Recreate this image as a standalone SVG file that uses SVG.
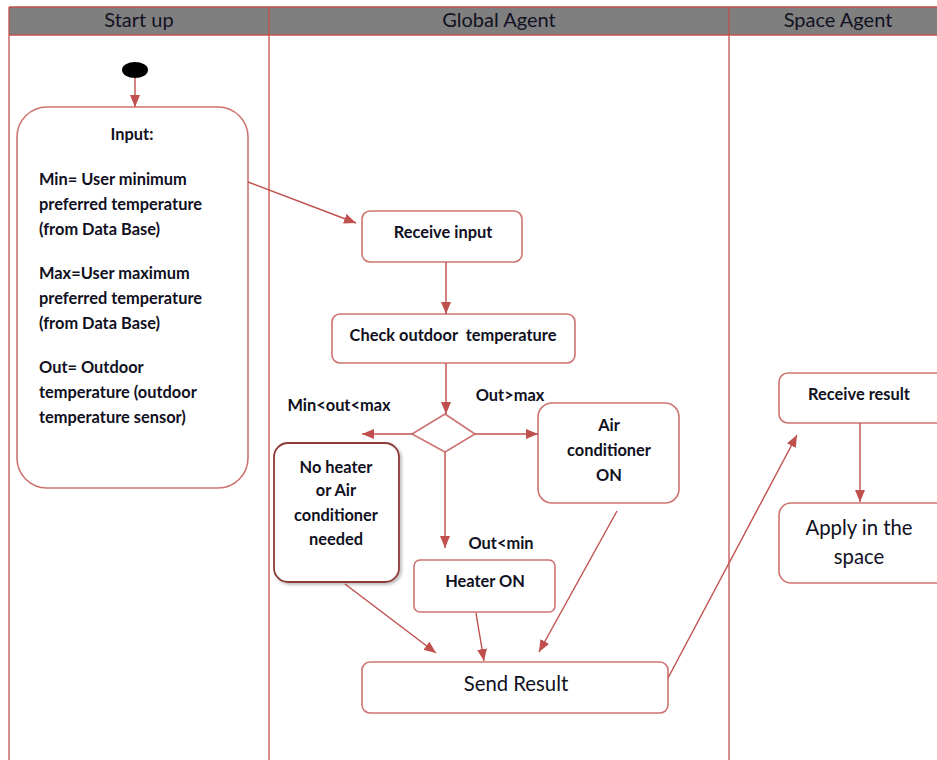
<svg xmlns="http://www.w3.org/2000/svg" width="937" height="760" viewBox="0 0 937 760">
  <defs>
    <marker id="arrow" markerWidth="12" markerHeight="10" refX="12" refY="5" orient="auto" markerUnits="userSpaceOnUse">
      <path d="M0,0 L12,5 L0,10 Z" fill="#C0504D"/>
    </marker>
    <filter id="shadow" x="-10%" y="-10%" width="130%" height="130%">
      <feDropShadow dx="2" dy="2" stdDeviation="1.5" flood-color="#000" flood-opacity="0.25"/>
    </filter>
  </defs>
  <style>
    .lane { stroke: #C0504D; stroke-width: 1.3; fill: none; }
    .hdr { fill: #7F7F7F; }
    .htxt { font-family: Lato, "Open Sans", sans-serif; font-size: 20px; fill: #111122; text-anchor: middle; }
    .box { fill: #FFFFFF; stroke: #C0504D; stroke-width: 1.6; stroke-opacity: 0.8; }
    .dark { fill: #FFFFFF; stroke: #8E3A38; stroke-width: 1.8; }
    .t { font-family: Lato, "Open Sans", sans-serif; font-size: 16.4px; font-weight: bold; fill: #10101E; }
    .c { text-anchor: middle; }
    .pre { white-space: pre; }
    .big { font-family: Lato, "Open Sans", sans-serif; font-size: 20.3px; fill: #10101E; text-anchor: middle; }
    .edge { stroke: #C0504D; stroke-width: 1.4; fill: none; marker-end: url(#arrow); }
  </style>

  <!-- swimlane frame -->
  <g id="lanes">
    <rect class="hdr" x="9" y="7" width="928" height="28"/>
    <line class="lane" x1="9" y1="7" x2="937" y2="7"/>
    <line class="lane" x1="9" y1="35" x2="937" y2="35"/>
    <line class="lane" x1="9" y1="7" x2="9" y2="760"/>
    <line class="lane" x1="269" y1="7" x2="269" y2="760"/>
    <line class="lane" x1="729" y1="7" x2="729" y2="760"/>
    <text class="htxt" x="139" y="27">Start up</text>
    <text class="htxt" x="499" y="27">Global Agent</text>
    <text class="htxt" x="838" y="27">Space Agent</text>
  </g>

  <!-- connectors -->
  <g id="connectors">
    <line class="edge" x1="135" y1="78" x2="135" y2="107"/>
    <line class="edge" x1="248" y1="182" x2="356" y2="223"/>
    <line class="edge" x1="446" y1="262" x2="446" y2="314"/>
    <line class="edge" x1="446" y1="363" x2="446" y2="414"/>
    <line class="edge" x1="412" y1="434" x2="362" y2="434"/>
    <line class="edge" x1="475" y1="434" x2="538" y2="434"/>
    <line class="edge" x1="445" y1="452" x2="445" y2="548"/>
    <line class="edge" x1="345" y1="584" x2="436" y2="653"/>
    <line class="edge" x1="476" y1="613" x2="484" y2="661"/>
    <line class="edge" x1="617" y1="511" x2="539" y2="652"/>
    <line class="edge" x1="668" y1="678" x2="797" y2="435"/>
    <line class="edge" x1="860" y1="423" x2="860" y2="502"/>
  </g>

  <g id="start">
    <ellipse cx="135" cy="70" rx="13" ry="8" fill="#000"/>
  </g>

  <g id="input">
    <rect class="box" x="17" y="107" width="231" height="381" rx="30"/>
    <text class="t c" x="132" y="140">Input:</text>
    <text class="t" x="39" y="185">Min= User minimum</text>
    <text class="t" x="39" y="210">preferred temperature</text>
    <text class="t" x="39" y="235">(from Data Base)</text>
    <text class="t" x="39" y="279">Max=User maximum</text>
    <text class="t" x="39" y="304">preferred temperature</text>
    <text class="t" x="39" y="329">(from Data Base)</text>
    <text class="t" x="39" y="373">Out= Outdoor</text>
    <text class="t" x="39" y="398">temperature (outdoor</text>
    <text class="t" x="39" y="423">temperature sensor)</text>
  </g>

  <g id="receive-input">
    <rect class="box" x="362" y="211" width="160" height="51" rx="8"/>
    <text class="t c" x="443" y="238">Receive input</text>
  </g>

  <g id="check-temp">
    <rect class="box" x="332" y="314" width="243" height="49" rx="8"/>
    <text class="t c pre" x="453" y="341">Check outdoor  temperature</text>
  </g>

  <g id="decision">
    <polygon class="box" points="445,414 475,434 445,452 412,434"/>
  </g>

  <g id="labels">
    <text class="t c" x="339" y="411">Min&lt;out&lt;max</text>
    <text class="t c" x="510" y="401">Out&gt;max</text>
    <text class="t c" x="501" y="549">Out&lt;min</text>
  </g>

  <g id="no-change">
    <rect class="dark" x="274" y="443" width="125" height="139" rx="14" filter="url(#shadow)"/>
    <text class="t c" x="336" y="473">No heater</text>
    <text class="t c" x="336" y="496">or Air</text>
    <text class="t c" x="336" y="521">conditioner</text>
    <text class="t c" x="336" y="545">needed</text>
  </g>

  <g id="ac-on">
    <rect class="box" x="538" y="403" width="141" height="100" rx="14"/>
    <text class="t c" x="609" y="431">Air</text>
    <text class="t c" x="609" y="456">conditioner</text>
    <text class="t c" x="609" y="481">ON</text>
  </g>

  <g id="heater-on">
    <rect class="box" x="414" y="560" width="141" height="52" rx="6"/>
    <text class="t c" x="485" y="587">Heater ON</text>
  </g>

  <g id="send-result">
    <rect class="box" x="362" y="662" width="306" height="51" rx="8"/>
    <text class="big" x="516" y="691">Send Result</text>
  </g>

  <g id="receive-result">
    <rect class="box" x="779" y="373" width="170" height="50" rx="9"/>
    <text class="t c" x="859" y="400">Receive result</text>
  </g>

  <g id="apply">
    <rect class="box" x="779" y="503" width="170" height="80" rx="12"/>
    <text class="big" x="859" y="535">Apply in the</text>
    <text class="big" x="859" y="564">space</text>
  </g>
</svg>
